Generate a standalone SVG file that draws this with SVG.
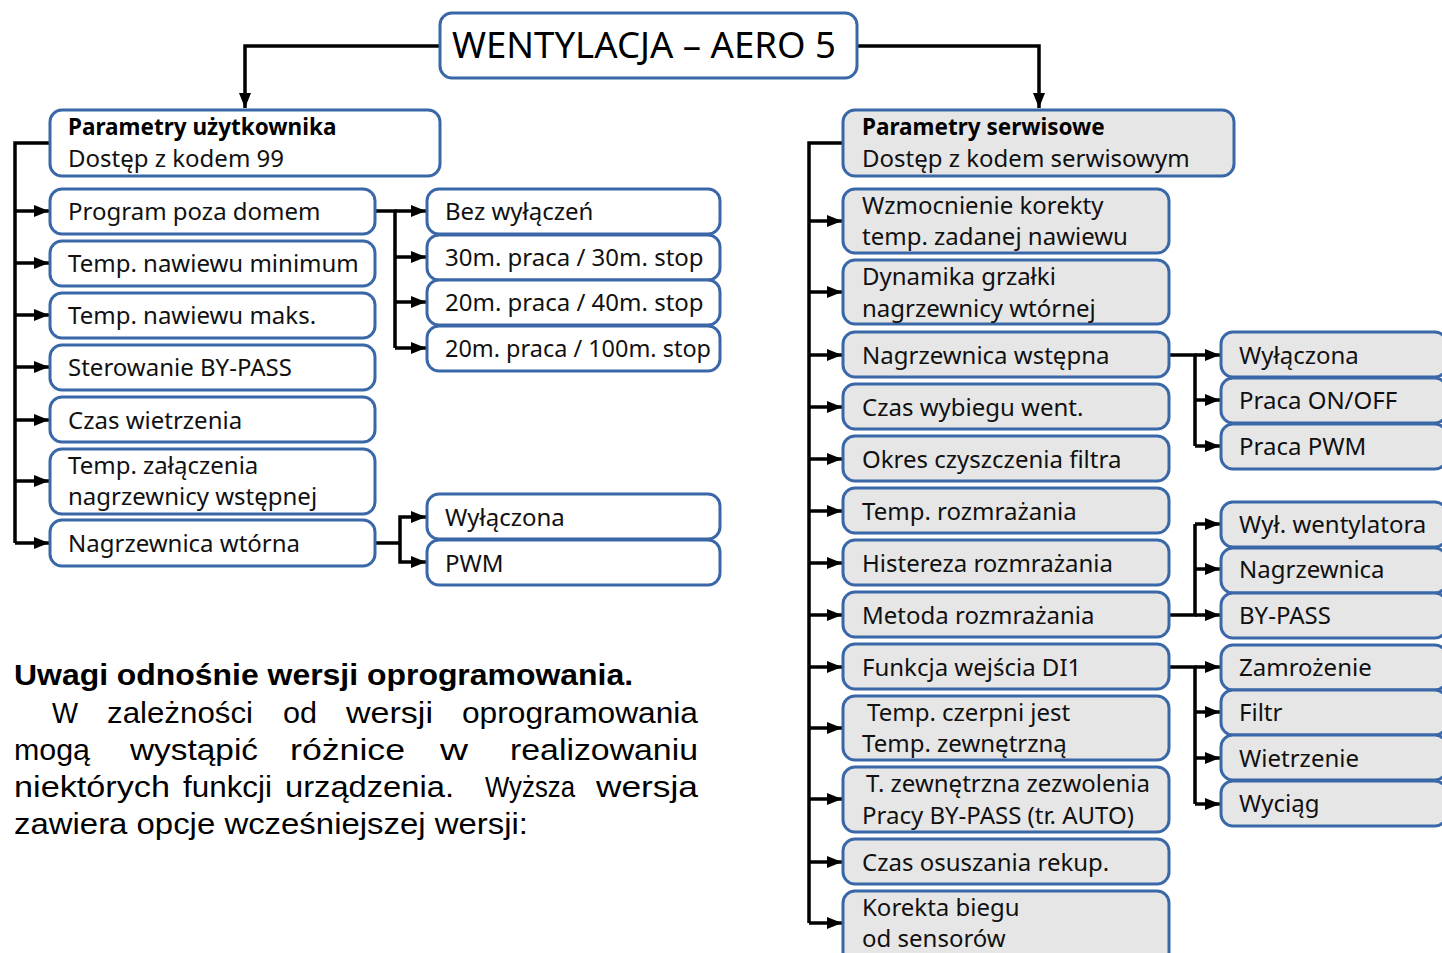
<svg xmlns="http://www.w3.org/2000/svg" width="1442" height="953" viewBox="0 0 1442 953">
<defs>
<marker id="ah" markerUnits="userSpaceOnUse" markerWidth="15" markerHeight="12" viewBox="0 0 15 12" refX="15" refY="6" orient="auto"><path d="M0,0 L15,6 L0,12 z" fill="#000"/></marker>
<style>
.b{fill:#fff;stroke:#3a67a8;stroke-width:3}
.g{fill:#e6e6e6;stroke:#3a67a8;stroke-width:3}
.t{font-family:"Noto Sans","Open Sans",sans-serif;font-size:24px;fill:#111}
.tb{font-family:"Noto Sans","Open Sans",sans-serif;font-size:22.5px;font-weight:bold;fill:#000}
.c{fill:none;stroke:#000;stroke-width:3.5}
.a{fill:none;stroke:#000;stroke-width:3.5;marker-end:url(#ah)}
.p{font-family:"Liberation Sans",Arial,sans-serif;font-size:30px;fill:#000}
</style>
</defs>
<rect width="1442" height="953" fill="#fff"/>
<g id="connectors">
<path class="a" d="M440,46 H245 V108"/>
<path class="a" d="M857,46 H1039 V108"/>
<path class="c" d="M50,143 H15 V543"/>
<path class="a" d="M15,211 H49"/>
<path class="a" d="M15,263 H49"/>
<path class="a" d="M15,315 H49"/>
<path class="a" d="M15,367 H49"/>
<path class="a" d="M15,420 H49"/>
<path class="a" d="M15,481 H49"/>
<path class="a" d="M15,543 H49"/>
<path class="c" d="M375,211 H395 V348"/>
<path class="a" d="M395,211 H426"/>
<path class="a" d="M395,257 H426"/>
<path class="a" d="M395,302 H426"/>
<path class="a" d="M395,348 H426"/>
<path class="c" d="M375,543 H400"/>
<path class="a" d="M400,543 V517 H426"/>
<path class="a" d="M400,543 V562 H426"/>
<path class="c" d="M843,143 H809 V923"/>
<path class="a" d="M809,221 H842"/>
<path class="a" d="M809,292 H842"/>
<path class="a" d="M809,355 H842"/>
<path class="a" d="M809,407 H842"/>
<path class="a" d="M809,459 H842"/>
<path class="a" d="M809,511 H842"/>
<path class="a" d="M809,563 H842"/>
<path class="a" d="M809,615 H842"/>
<path class="a" d="M809,667 H842"/>
<path class="a" d="M809,728 H842"/>
<path class="a" d="M809,799 H842"/>
<path class="a" d="M809,862 H842"/>
<path class="a" d="M809,923 H842"/>
<path class="c" d="M1169,355 H1195 V446"/>
<path class="a" d="M1195,355 H1220"/>
<path class="a" d="M1195,400 H1220"/>
<path class="a" d="M1195,446 H1220"/>
<path class="c" d="M1169,615 H1195 V524"/>
<path class="a" d="M1195,524 H1220"/>
<path class="a" d="M1195,569 H1220"/>
<path class="a" d="M1195,615 H1220"/>
<path class="c" d="M1169,667 H1195 V804"/>
<path class="a" d="M1195,667 H1220"/>
<path class="a" d="M1195,712 H1220"/>
<path class="a" d="M1195,758 H1220"/>
<path class="a" d="M1195,804 H1220"/>
</g>
<g id="title"><rect class="b" x="440" y="13" width="417" height="65" rx="12"/><text x="452" y="58" font-family="Noto Sans, sans-serif" font-size="36" fill="#000" textLength="384" lengthAdjust="spacingAndGlyphs">WENTYLACJA – AERO 5</text></g>

<g id="user"><rect class="b" x="50" y="110" width="390" height="66" rx="12"/><text class="tb" x="68" y="135">Parametry użytkownika</text><text class="t" x="68" y="167">Dostęp z kodem 99</text></g>
<g id="u1"><rect class="b" x="50" y="189" width="325" height="45" rx="12"/><text class="t" x="68" y="220">Program poza domem</text></g>
<g id="u2"><rect class="b" x="50" y="241" width="325" height="45" rx="12"/><text class="t" x="68" y="272">Temp. nawiewu minimum</text></g>
<g id="u3"><rect class="b" x="50" y="293" width="325" height="45" rx="12"/><text class="t" x="68" y="324">Temp. nawiewu maks.</text></g>
<g id="u4"><rect class="b" x="50" y="345" width="325" height="45" rx="12"/><text class="t" x="68" y="376">Sterowanie BY-PASS</text></g>
<g id="u5"><rect class="b" x="50" y="397" width="325" height="45" rx="12"/><text class="t" x="68" y="429">Czas wietrzenia</text></g>
<g id="u6"><rect class="b" x="50" y="449" width="325" height="65" rx="12"/><text class="t" x="68" y="474">Temp. załączenia</text><text class="t" x="68" y="505">nagrzewnicy wstępnej</text></g>
<g id="u7"><rect class="b" x="50" y="520" width="325" height="46" rx="12"/><text class="t" x="68" y="552">Nagrzewnica wtórna</text></g>

<g id="s1"><rect class="b" x="427" y="189" width="293" height="45" rx="12"/><text class="t" x="445" y="220">Bez wyłączeń</text></g>
<g id="s2"><rect class="b" x="427" y="235" width="293" height="45" rx="12"/><text class="t" x="445" y="266">30m. praca / 30m. stop</text></g>
<g id="s3"><rect class="b" x="427" y="280" width="293" height="45" rx="12"/><text class="t" x="445" y="311">20m. praca / 40m. stop</text></g>
<g id="s4"><rect class="b" x="427" y="326" width="293" height="45" rx="12"/><text class="t" x="445" y="357" textLength="266" lengthAdjust="spacingAndGlyphs">20m. praca / 100m. stop</text></g>
<g id="s5"><rect class="b" x="427" y="494" width="293" height="45" rx="12"/><text class="t" x="445" y="526">Wyłączona</text></g>
<g id="s6"><rect class="b" x="427" y="540" width="293" height="45" rx="12"/><text class="t" x="445" y="572">PWM</text></g>

<g id="serv"><rect class="g" x="843" y="110" width="391" height="66" rx="12"/><text class="tb" x="862" y="135">Parametry serwisowe</text><text class="t" x="862" y="167">Dostęp z kodem serwisowym</text></g>
<g id="r1"><rect class="g" x="843" y="189" width="326" height="64" rx="12"/><text class="t" x="862" y="214">Wzmocnienie korekty</text><text class="t" x="862" y="245">temp. zadanej nawiewu</text></g>
<g id="r2"><rect class="g" x="843" y="260" width="326" height="64" rx="12"/><text class="t" x="862" y="285">Dynamika grzałki</text><text class="t" x="862" y="317">nagrzewnicy wtórnej</text></g>
<g id="r3"><rect class="g" x="843" y="332" width="326" height="45" rx="12"/><text class="t" x="862" y="364">Nagrzewnica wstępna</text></g>
<g id="r4"><rect class="g" x="843" y="384" width="326" height="45" rx="12"/><text class="t" x="862" y="416">Czas wybiegu went.</text></g>
<g id="r5"><rect class="g" x="843" y="436" width="326" height="45" rx="12"/><text class="t" x="862" y="468">Okres czyszczenia filtra</text></g>
<g id="r6"><rect class="g" x="843" y="488" width="326" height="45" rx="12"/><text class="t" x="862" y="520">Temp. rozmrażania</text></g>
<g id="r7"><rect class="g" x="843" y="540" width="326" height="45" rx="12"/><text class="t" x="862" y="572">Histereza rozmrażania</text></g>
<g id="r8"><rect class="g" x="843" y="592" width="326" height="45" rx="12"/><text class="t" x="862" y="624">Metoda rozmrażania</text></g>
<g id="r9"><rect class="g" x="843" y="644" width="326" height="45" rx="12"/><text class="t" x="862" y="676">Funkcja wejścia DI1</text></g>
<g id="r10"><rect class="g" x="843" y="696" width="326" height="64" rx="12"/><text class="t" x="867" y="721">Temp. czerpni jest</text><text class="t" x="862" y="752">Temp. zewnętrzną</text></g>
<g id="r11"><rect class="g" x="843" y="767" width="326" height="65" rx="12"/><text class="t" x="866" y="792">T. zewnętrzna zezwolenia</text><text class="t" x="862" y="824">Pracy BY-PASS (tr. AUTO)</text></g>
<g id="r12"><rect class="g" x="843" y="839" width="326" height="45" rx="12"/><text class="t" x="862" y="871">Czas osuszania rekup.</text></g>
<g id="r13"><rect class="g" x="843" y="891" width="326" height="80" rx="12"/><text class="t" x="862" y="916">Korekta biegu</text><text class="t" x="862" y="947">od sensorów</text></g>

<g id="q1"><rect class="g" x="1221" y="332" width="226" height="45" rx="12"/><text class="t" x="1239" y="364">Wyłączona</text></g>
<g id="q2"><rect class="g" x="1221" y="378" width="226" height="45" rx="12"/><text class="t" x="1239" y="409">Praca ON/OFF</text></g>
<g id="q3"><rect class="g" x="1221" y="424" width="226" height="45" rx="12"/><text class="t" x="1239" y="455">Praca PWM</text></g>
<g id="q4"><rect class="g" x="1221" y="502" width="226" height="45" rx="12"/><text class="t" x="1239" y="533">Wył. wentylatora</text></g>
<g id="q5"><rect class="g" x="1221" y="548" width="226" height="45" rx="12"/><text class="t" x="1239" y="578">Nagrzewnica</text></g>
<g id="q6"><rect class="g" x="1221" y="593" width="226" height="45" rx="12"/><text class="t" x="1239" y="624">BY-PASS</text></g>
<g id="q7"><rect class="g" x="1221" y="645" width="226" height="45" rx="12"/><text class="t" x="1239" y="676">Zamrożenie</text></g>
<g id="q8"><rect class="g" x="1221" y="690" width="226" height="45" rx="12"/><text class="t" x="1239" y="721">Filtr</text></g>
<g id="q9"><rect class="g" x="1221" y="735" width="226" height="45" rx="12"/><text class="t" x="1239" y="767">Wietrzenie</text></g>
<g id="q10"><rect class="g" x="1221" y="781" width="226" height="45" rx="12"/><text class="t" x="1239" y="812">Wyciąg</text></g>

<g id="notes">
<text class="p" x="14" y="685" font-weight="bold" textLength="619" lengthAdjust="spacingAndGlyphs">Uwagi odnośnie wersji oprogramowania.</text>
<text class="p" x="52" y="723" textLength="26" lengthAdjust="spacingAndGlyphs">W</text>
<text class="p" x="107" y="723" textLength="146" lengthAdjust="spacingAndGlyphs">zależności</text>
<text class="p" x="283" y="723" textLength="34" lengthAdjust="spacingAndGlyphs">od</text>
<text class="p" x="346" y="723" textLength="87" lengthAdjust="spacingAndGlyphs">wersji</text>
<text class="p" x="462" y="723" textLength="236" lengthAdjust="spacingAndGlyphs">oprogramowania</text>
<text class="p" x="14" y="760" textLength="76" lengthAdjust="spacingAndGlyphs">mogą</text>
<text class="p" x="130" y="760" textLength="128" lengthAdjust="spacingAndGlyphs">wystąpić</text>
<text class="p" x="290" y="760" textLength="115" lengthAdjust="spacingAndGlyphs">różnice</text>
<text class="p" x="440" y="760" textLength="28" lengthAdjust="spacingAndGlyphs">w</text>
<text class="p" x="510" y="760" textLength="188" lengthAdjust="spacingAndGlyphs">realizowaniu</text>
<text class="p" x="14" y="797" textLength="156" lengthAdjust="spacingAndGlyphs">niektórych</text>
<text class="p" x="183" y="797" textLength="89" lengthAdjust="spacingAndGlyphs">funkcji</text>
<text class="p" x="285" y="797" textLength="169" lengthAdjust="spacingAndGlyphs">urządzenia.</text>
<text class="p" x="485" y="797" textLength="90" lengthAdjust="spacingAndGlyphs">Wyższa</text>
<text class="p" x="596" y="797" textLength="102" lengthAdjust="spacingAndGlyphs">wersja</text>
<text class="p" x="14" y="834" textLength="514" lengthAdjust="spacingAndGlyphs">zawiera opcje wcześniejszej wersji:</text>
</g>
</svg>
